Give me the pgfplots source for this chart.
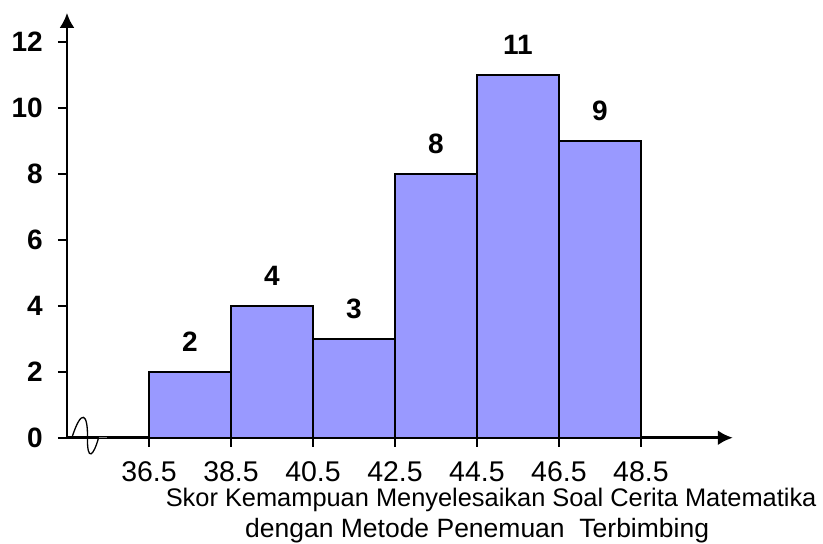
\documentclass[border=0pt]{standalone}
\usepackage{pgfplots}
\pgfplotsset{compat=1.18}
\usetikzlibrary{arrows.meta}
\usepackage{fontspec}
\setmainfont{Liberation Sans}
\definecolor{barfill}{HTML}{9999FF}
\begin{document}
\begin{tikzpicture}
\begin{axis}[
  scale only axis,
  width=666pt, height=425pt,
  xmin=34.5, xmax=50.74,
  ymin=0, ymax=12.88,
  axis lines=left,
  axis line style={line width=2.8pt, -{Latex[length=15pt,width=15pt]}},
  tick align=outside,
  major tick length=9pt,
  tick style={line width=2.4pt, black},
  xtick={36.5,38.5,...,48.5},
  ytick={0,2,...,12},
  xticklabel style={font=\fontsize{28.5}{30}\selectfont, anchor=north, inner sep=0pt, yshift=-15pt, /pgf/number format/.cd, fixed, fixed zerofill, precision=1},
  yticklabel style={font=\fontsize{28}{30}\selectfont\bfseries, anchor=east, inner sep=0pt, xshift=-15pt},
  /pgf/number format/assume math mode=true,
  xlabel={Skor Kemampuan Menyelesaikan Soal Cerita Matematika\\{\fontsize{26.5}{31}\selectfont dengan Metode Penemuan\ \ Terbimbing}\hspace*{28pt}},
  xlabel style={font=\fontsize{25.4}{31}\selectfont, align=center, inner sep=0pt, at={(rel axis cs:0.637,0)}, anchor=north, yshift=-50pt},
  clip=false,
]
\addplot[ybar interval, fill=barfill, draw=black, line width=2.4pt] coordinates {
  (36.5,2) (38.5,4) (40.5,3) (42.5,8) (44.5,11) (46.5,9) (48.5,9)
};
\addplot[draw=none, mark=none, nodes near coords={\bfseries\pgfmathprintnumber{\pgfplotspointmeta}}, point meta=y,
  every node near coord/.append style={font=\fontsize{28}{30}\selectfont, anchor=base, inner sep=0pt, yshift=20pt}] coordinates {
  (37.5,2) (39.5,4) (41.5,3) (43.5,8) (45.5,11) (47.5,9)
};
\draw[line width=1.3pt] (axis cs:34.62,0) .. controls (axis cs:34.85,0.9) and (axis cs:35.01,0.75) .. (axis cs:35.0,0)
  .. controls (axis cs:34.99,-0.75) and (axis cs:35.15,-0.55) .. (axis cs:35.27,0);
\draw[line width=1pt, gray] (axis cs:35.27,0) -- (axis cs:35.48,0);
\coordinate (bbl) at (axis cs:32.866,-3.212);
\coordinate (btr) at (axis cs:52.94,13.27);
\end{axis}
\pgfresetboundingbox
\path (bbl) rectangle (btr);
\end{tikzpicture}
\end{document}
